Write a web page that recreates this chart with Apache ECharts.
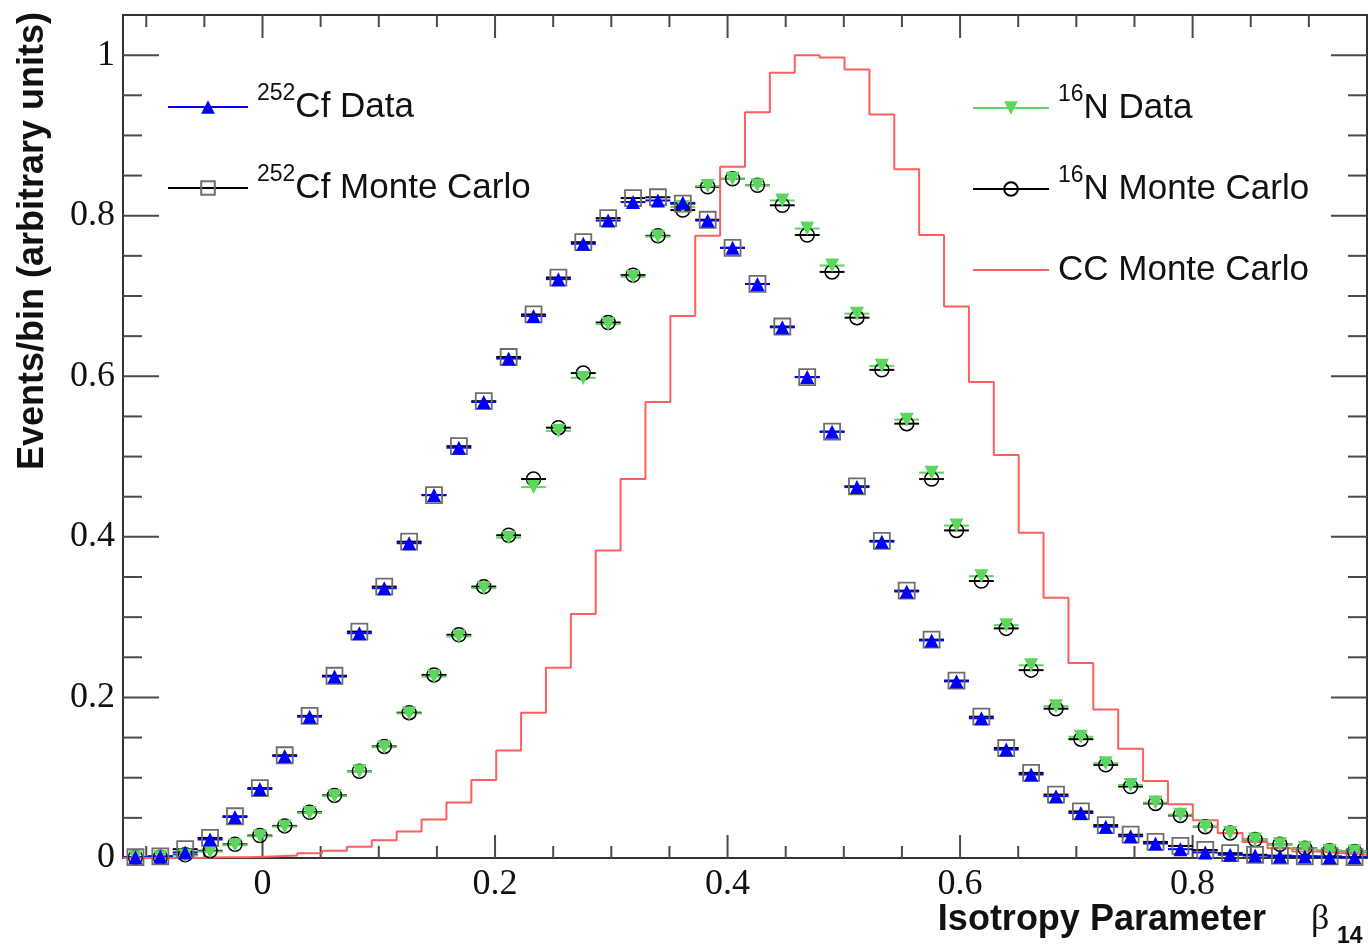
<!DOCTYPE html>
<html><head><meta charset="utf-8">
<script src="https://cdn.jsdelivr.net/npm/echarts@6/dist/echarts.min.js"></script>
<style>html,body{margin:0;padding:0;background:#fff}#chart{width:1368px;height:947px}</style>
</head><body><div id="chart"></div>
<script>
// ---- data (50 bins between -0.12 and 0.95) ----
const binEdges = [-0.12,-0.0986,-0.0772,-0.0558,-0.0344,-0.013,0.0084,0.0298,0.0512,0.0726,0.094,0.1154,0.1368,0.1582,0.1796,0.201,0.2224,0.2438,0.2652,0.2866,0.308,0.3294,0.3508,0.3722,0.3936,0.415,0.4364,0.4578,0.4792,0.5006,0.522,0.5434,0.5648,0.5862,0.6076,0.629,0.6504,0.6718,0.6932,0.7146,0.736,0.7574,0.7788,0.8002,0.8216,0.843,0.8644,0.8858,0.9072,0.9286,0.95];
const ccMonteCarlo = [0,0,0,0.001,0.001,0.002,0.003,0.006,0.009,0.014,0.022,0.033,0.048,0.069,0.097,0.134,0.181,0.237,0.304,0.383,0.472,0.568,0.675,0.775,0.861,0.929,0.978,1.0,0.997,0.982,0.926,0.858,0.776,0.687,0.593,0.502,0.405,0.324,0.243,0.185,0.136,0.096,0.067,0.047,0.031,0.020,0.012,0.008,0.006,0.004];
const cfData = [0.001,0.002,0.007,0.023,0.051,0.086,0.127,0.176,0.226,0.280,0.336,0.392,0.452,0.511,0.568,0.622,0.675,0.721,0.765,0.794,0.817,0.819,0.816,0.794,0.760,0.715,0.661,0.599,0.531,0.462,0.394,0.332,0.271,0.220,0.174,0.135,0.104,0.077,0.056,0.039,0.027,0.018,0.011,0.007,0.004,0.003,0.002,0.002,0.001,0.001];
const cfMonteCarlo = [0.001,0.002,0.011,0.025,0.052,0.087,0.128,0.177,0.227,0.282,0.338,0.394,0.452,0.513,0.569,0.624,0.677,0.723,0.767,0.797,0.822,0.823,0.815,0.795,0.760,0.715,0.662,0.599,0.531,0.463,0.395,0.333,0.272,0.221,0.176,0.137,0.106,0.079,0.058,0.041,0.029,0.020,0.015,0.010,0.006,0.004,0.003,0.002,0.002,0.001];
const n16Data = [0.001,0.001,0.003,0.008,0.016,0.027,0.039,0.056,0.077,0.108,0.138,0.180,0.226,0.276,0.336,0.399,0.462,0.532,0.598,0.665,0.724,0.774,0.811,0.837,0.846,0.838,0.819,0.784,0.738,0.678,0.613,0.546,0.480,0.414,0.351,0.290,0.240,0.189,0.151,0.118,0.091,0.069,0.054,0.039,0.031,0.023,0.017,0.012,0.009,0.008];
const n16MonteCarlo = [0.001,0.001,0.004,0.009,0.017,0.028,0.040,0.057,0.078,0.108,0.139,0.181,0.228,0.278,0.338,0.402,0.472,0.536,0.604,0.667,0.726,0.775,0.807,0.836,0.846,0.838,0.813,0.776,0.730,0.673,0.608,0.541,0.472,0.408,0.345,0.286,0.234,0.186,0.148,0.116,0.089,0.068,0.053,0.039,0.031,0.023,0.017,0.012,0.009,0.008];
const xMajorTicks = [0,0.2,0.4,0.6,0.8];
const xMinorTicks = [-0.1,-0.05,0.05,0.1,0.15,0.25,0.3,0.35,0.45,0.5,0.55,0.65,0.7,0.75,0.85,0.9];
const yMajorTicks = [0,0.2,0.4,0.6,0.8,1];
const yMinorTicks = [0.05,0.1,0.15,0.25,0.3,0.35,0.45,0.5,0.55,0.65,0.7,0.75,0.85,0.9,0.95];
const legendLabels = {
  '252Cf Data': '{sup|252}{main|Cf Data}',
  '252Cf Monte Carlo': '{sup|252}{main|Cf Monte Carlo}',
  '16N Data': '{sup|16}{main|N Data}',
  '16N Monte Carlo': '{sup|16}{main|N Monte Carlo}',
  'CC Monte Carlo': '{plain|CC Monte Carlo}'
};

const X_MIN = -0.12, X_MAX = 0.95, Y_MIN = 0, Y_MAX = 1.05;
const BLUE = '#0000ff', GREEN = '#5cd65c', RED = '#ff5e5e', SQ = '#6e6e6e';
const SANS = '"Liberation Sans", Arial, sans-serif';
const SERIF = '"Liberation Serif", "Times New Roman", serif';

const binCenters = binEdges.slice(0, -1).map((e, i) => +((e + binEdges[i + 1]) / 2).toFixed(4));
const pts = vals => vals.map((v, i) => [binCenters[i], v]);
const bars = vals => vals.map((v, i) => [binEdges[i], binEdges[i + 1], v]);

function barSeries(name, vals, color) {
  return {
    type: 'custom', name, coordinateSystem: 'cartesian2d', silent: true, clip: false,
    encode: { x: [0, 1], y: 2 }, data: bars(vals),
    renderItem(params, api) {
      const y = api.value(2);
      const p0 = api.coord([api.value(0), y]);
      const p1 = api.coord([api.value(1), y]);
      return { type: 'line', shape: { x1: p0[0], y1: p0[1], x2: p1[0], y2: p1[1] },
               style: { stroke: color, lineWidth: 2 } };
    }
  };
}
function tickSeries(values, dir, len) {
  return {
    type: 'custom', name: 'ticks', coordinateSystem: 'cartesian2d', silent: true, clip: false,
    encode: dir === 'x' ? { x: 0, y: 1 } : { y: 0, x: 1 },
    data: values.map(v => [v, dir === 'x' ? Y_MIN : X_MIN]),
    renderItem(params, api) {
      const v = api.value(0);
      const st = { stroke: '#4a4a4a', lineWidth: 2 };
      if (dir === 'x') {
        const b = api.coord([v, Y_MIN]), t = api.coord([v, Y_MAX]);
        return { type: 'group', children: [
          { type: 'line', shape: { x1: b[0], y1: b[1], x2: b[0], y2: b[1] - len }, style: st },
          { type: 'line', shape: { x1: t[0], y1: t[1], x2: t[0], y2: t[1] + len }, style: st } ] };
      }
      const l = api.coord([X_MIN, v]), r = api.coord([X_MAX, v]);
      return { type: 'group', children: [
        { type: 'line', shape: { x1: l[0], y1: l[1], x2: l[0] + len, y2: l[1] }, style: st },
        { type: 'line', shape: { x1: r[0], y1: r[1], x2: r[0] - len, y2: r[1] }, style: st } ] };
    }
  };
}
function markerSeries(name, vals, symbol, size, itemStyle, rotate) {
  return {
    type: 'line', name, data: pts(vals), symbol, symbolSize: size, symbolRotate: rotate || 0,
    showAllSymbol: true, clip: false, lineStyle: { width: 0, opacity: 0 },
    itemStyle, emphasis: { disabled: true }, z: 3
  };
}
const fmt = v => {
  const q = v / 0.2;
  if (Math.abs(q - Math.round(q)) > 1e-6) return '';
  return String(+v.toFixed(2));
};
const legendText = {
  color: '#111', fontFamily: SANS, fontSize: 35, lineHeight: 50,
  rich: {
    sup: { fontSize: 23, lineHeight: 23, verticalAlign: 'top', padding: [0, 0, 0, 4], fontFamily: SANS, color: '#111' },
    main: { fontSize: 35, lineHeight: 50, verticalAlign: 'middle', fontFamily: SANS, color: '#111' },
    plain: { fontSize: 35, lineHeight: 50, verticalAlign: 'middle', padding: [0, 0, 0, 4], fontFamily: SANS, color: '#111' }
  }
};
const ls = c => ({ color: c, width: 2, opacity: 1, type: 'solid' });

const chart = echarts.init(document.getElementById('chart'), null, { renderer: 'canvas' });
chart.setOption({
  animation: false,
  backgroundColor: '#ffffff',
  textStyle: { fontFamily: SANS },
  grid: { left: 123, right: 1, top: 15, bottom: 89, containLabel: false, outerBoundsMode: 'none' },
  xAxis: [
    { type: 'value', position: 'bottom', min: X_MIN, max: X_MAX, minInterval: 0.2, maxInterval: 0.2,
      axisLine: { show: true, onZero: false, lineStyle: { color: '#333', width: 2 } },
      axisTick: { show: false }, splitLine: { show: false }, minorTick: { show: false },
      axisLabel: { show: true, formatter: fmt, showMinLabel: false, showMaxLabel: false, margin: 9,
                   fontFamily: SERIF, fontSize: 36, color: '#111' } },
    { type: 'value', position: 'top', min: X_MIN, max: X_MAX,
      axisLine: { show: true, onZero: false, lineStyle: { color: '#333', width: 2 } },
      axisTick: { show: false }, splitLine: { show: false }, axisLabel: { show: false } }
  ],
  yAxis: [
    { type: 'value', position: 'left', min: Y_MIN, max: Y_MAX, minInterval: 0.2, maxInterval: 0.2,
      axisLine: { show: true, onZero: false, lineStyle: { color: '#333', width: 2 } },
      axisTick: { show: false }, splitLine: { show: false }, minorTick: { show: false },
      axisLabel: { show: true, formatter: fmt, showMaxLabel: false, margin: 8,
                   fontFamily: SERIF, fontSize: 36, color: '#111' } },
    { type: 'value', position: 'right', min: Y_MIN, max: Y_MAX,
      axisLine: { show: true, onZero: false, lineStyle: { color: '#333', width: 2 } },
      axisTick: { show: false }, splitLine: { show: false }, axisLabel: { show: false } }
  ],
  legend: [
    { orient: 'vertical', left: 167, top: 82, padding: 0, itemWidth: 80, itemHeight: 17, itemGap: 31,
      selectedMode: false, formatter: n => legendLabels[n], textStyle: legendText,
      data: [ { name: '252Cf Data', lineStyle: ls(BLUE) },
              { name: '252Cf Monte Carlo', lineStyle: ls('#000') } ] },
    { orient: 'vertical', left: 972, top: 83, padding: 0, itemWidth: 76, itemHeight: 17, itemGap: 31,
      selectedMode: false, formatter: n => legendLabels[n], textStyle: legendText,
      data: [ { name: '16N Data', lineStyle: ls(GREEN) },
              { name: '16N Monte Carlo', lineStyle: ls('#000') },
              { name: 'CC Monte Carlo', lineStyle: ls(RED),
                itemStyle: { color: 'rgba(0,0,0,0)', borderColor: 'rgba(0,0,0,0)', borderWidth: 0 } } ] }
  ],
  graphic: [
    { type: 'text', x: 33, y: 12, rotation: Math.PI / 2, silent: true,
      style: { text: 'Events/bin (arbitrary units)', fill: '#111', font: 'bold 36px ' + SANS,
               align: 'right', textAlign: 'right', verticalAlign: 'middle', textVerticalAlign: 'middle' } },
    { type: 'text', x: 1266, y: 920, silent: true,
      style: { text: 'Isotropy Parameter', fill: '#111', font: 'bold 36px ' + SANS,
               align: 'right', textAlign: 'right', verticalAlign: 'middle', textVerticalAlign: 'middle' } },
    { type: 'text', x: 1311, y: 920, silent: true,
      style: { text: 'β', fill: '#111', font: '36px ' + SERIF,
               align: 'left', textAlign: 'left', verticalAlign: 'middle', textVerticalAlign: 'middle' } },
    { type: 'text', x: 1337, y: 937, silent: true,
      style: { text: '14', fill: '#111', font: 'bold 23px ' + SANS,
               align: 'left', textAlign: 'left', verticalAlign: 'middle', textVerticalAlign: 'middle' } }
  ],
  series: [
    tickSeries(xMajorTicks, 'x', 23),
    tickSeries(xMinorTicks, 'x', 12),
    tickSeries(yMajorTicks, 'y', 36),
    tickSeries(yMinorTicks, 'y', 19),
    { type: 'line', name: 'CC Monte Carlo', step: 'end', symbol: 'none', clip: false,
      data: binEdges.map((e, i) => [e, ccMonteCarlo[Math.min(i, ccMonteCarlo.length - 1)]]),
      lineStyle: { color: RED, width: 2 }, itemStyle: { color: RED }, emphasis: { disabled: true }, z: 2 },
    barSeries('n16 MC bars', n16MonteCarlo, '#000'),
    barSeries('cf MC bars', cfMonteCarlo, '#000'),
    markerSeries('16N Monte Carlo', n16MonteCarlo, 'circle', 14,
      { color: 'rgba(255,255,255,0)', borderColor: '#000', borderWidth: 1.5 }),
    markerSeries('252Cf Monte Carlo', cfMonteCarlo, 'rect', 16,
      { color: 'rgba(255,255,255,0)', borderColor: SQ, borderWidth: 1.8 }),
    barSeries('n16 data bars', n16Data, GREEN),
    barSeries('cf data bars', cfData, BLUE),
    markerSeries('16N Data', n16Data, 'triangle', 14, { color: GREEN }, 180),
    markerSeries('252Cf Data', cfData, 'triangle', 14, { color: BLUE })
  ]
});
</script></body></html>
